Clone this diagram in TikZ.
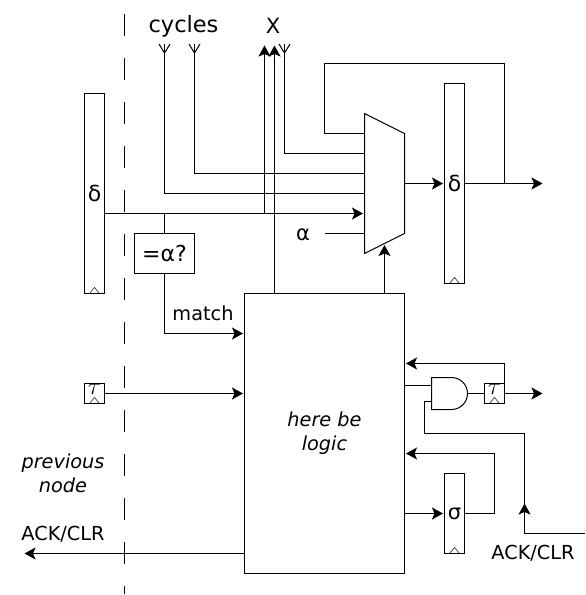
\documentclass[tikz,border=0pt]{standalone}
\usepackage{fontspec}
\setmainfont{DejaVu Sans}
\usetikzlibrary{arrows.meta,positioning}

\begin{document}
\begin{tikzpicture}[x=1pt,y=1pt,line width=1pt,>={Stealth[length=11pt,width=12pt,inset=2.5pt]},
  font=\fontsize{19.3}{24}\selectfont,
  box/.style={draw,inner sep=0pt,outer sep=0pt,align=center},
  regbox/.style={box,minimum width=20pt,path picture={\draw[line width=.5pt] ([xshift=-5pt]path picture bounding box.south) -- ([yshift=6pt]path picture bounding box.south) -- ([xshift=5pt]path picture bounding box.south);}},
  clockbox/.style={regbox,minimum height=20pt,font=\fontsize{24}{24}\selectfont},
  arrow/.style={->,shorten >=1.5pt},
  tap/.style={{Straight Barb[reversed,length=9pt,width=11pt,line width=1pt]}-},
  lab/.style={anchor=base,inner sep=0pt,align=center},
  big/.style={font=\fontsize{22}{24}\selectfont}]
\useasboundingbox (0.5,0.5) rectangle (586.5,-594.5);
\draw[dash pattern=on 22pt off 22pt] (125,-13) coordinate (bordertop) -- (125,-593) coordinate (borderbot);
\node[regbox,big,minimum height=200pt] (dl) at (95,-193) {δ};
\node[regbox,big,minimum height=200pt] (dr) at (455,-183) {δ};
\node[box,big,minimum width=60pt,minimum height=40pt] (eq) at (165,-253) {=α?};
\node[box,minimum width=160pt,minimum height=280pt,font=\fontsize{19.3}{24}\itshape] (logic) at (325,-433) {here be\\logic};
\node[clockbox] (tl) at (95,-393) {\raisebox{-1pt}[5pt][5pt]{$\tau$}};
\node[regbox,minimum height=80pt,font=\fontsize{21}{24}\selectfont] (sg) at (455,-513) {σ};
\node[clockbox] (tr) at (495,-393) {\raisebox{-1pt}[5pt][5pt]{$\tau$}};
\node[lab,font=\fontsize{22.5}{24}\selectfont] (cyc) at (184,-32) {cycles};
\node[lab,font=\fontsize{21}{24}\selectfont] (xl) at (273.5,-33) {X};
\node[lab] (ml) at (203.5,-320) {match};
\node[lab,font=\fontsize{21}{24}\selectfont] (al) at (303.5,-240) {α};
\node[lab,font=\fontsize{19.3}{24}\itshape,anchor=center] (pn) at (63.5,-473) {previous\\node};
\node[lab] (ackl) at (63.5,-540) {ACK/CLR};
\node[lab] (ackr) at (533.5,-559) {ACK/CLR};
% multiplexer
\draw (365,-113) -- (405,-133) -- (405,-233) -- (365,-253) -- cycle;
\coordinate (m1) at (365,-133);
\coordinate (m2) at (365,-153);
\coordinate (m3) at (365,-173);
\coordinate (m4) at (365,-193);
\coordinate (m5) at (365,-213);
\coordinate (m6) at (365,-233);
\coordinate (mo) at (405,-183);
\coordinate (ms) at (385,-243);
% and gate
\draw (432,-377) -- (452,-377) arc[start angle=90,end angle=-90,radius=16] -- (432,-409) -- cycle;
\coordinate (g1) at (432,-385);
\coordinate (g2) at (432,-401);
\coordinate (go) at (468,-393);
\coordinate (topa) at (165,-43);
\coordinate (topb) at (195,-43);
\coordinate (topc) at (265,-45);
\coordinate (topd) at (275,-45);
\coordinate (tope) at (285,-43);
\coordinate (oute) at (543,-183);
\coordinate (outf) at (543,-393);
\coordinate (ackc) at (525,-503);
\coordinate (ackd) at (585,-533);
\coordinate (acke) at (25,-553);
\coordinate (alin) at (325,-233);
% wires into the mux
\draw[tap] (topa) |- (m4);
\draw (topa) -- ++(0,-10);
\draw[tap] (topb) |- (m3);
\draw (topb) -- ++(0,-10);
\draw[tap] (tope) |- (m2);
\draw (tope) -- ++(0,-10);
\draw[arrow] ([yshift=-20pt]dl.east) -- (m5);
\draw (alin) -- (m6);
\draw[->] (topc) ++(0,-168) -- (topc);
\draw[->] (logic.north -| topd) -- (topd);
\draw (eq.north) -- (eq.north |- m5);
\draw[arrow] (logic.north -| ms) -- (ms);
\draw[arrow] (mo) -- (dr.west);
\draw[->] (dr.east) -- (oute);
\draw (505,-183) coordinate (fb) -- (505,-63) -| (325,-133) -- (m1);
% into and out of the logic
\draw[arrow] (eq.south) |- (logic.west |- 0,-333);
\draw[arrow] (tl.east) -- (logic.west |- tl.east);
\draw[->] (logic.west |- acke) -- (acke);
\draw (logic.east |- g1) -- (g1);
\draw (go) -- (tr.west);
\draw[->] (tr.east) -- (outf);
\draw[arrow] (505,-393) -- (505,-363) -- (logic.east |- 0,-363);
\draw[arrow] (logic.east |- sg.west) -- (sg.west);
\draw[arrow] (sg.east) -| (495,-453) -- (logic.east |- 0,-453);
\draw (g2) -| (425,-433) -| (ackc);
\draw[->] (ackd) -| (ackc);
\end{tikzpicture}
\end{document}
